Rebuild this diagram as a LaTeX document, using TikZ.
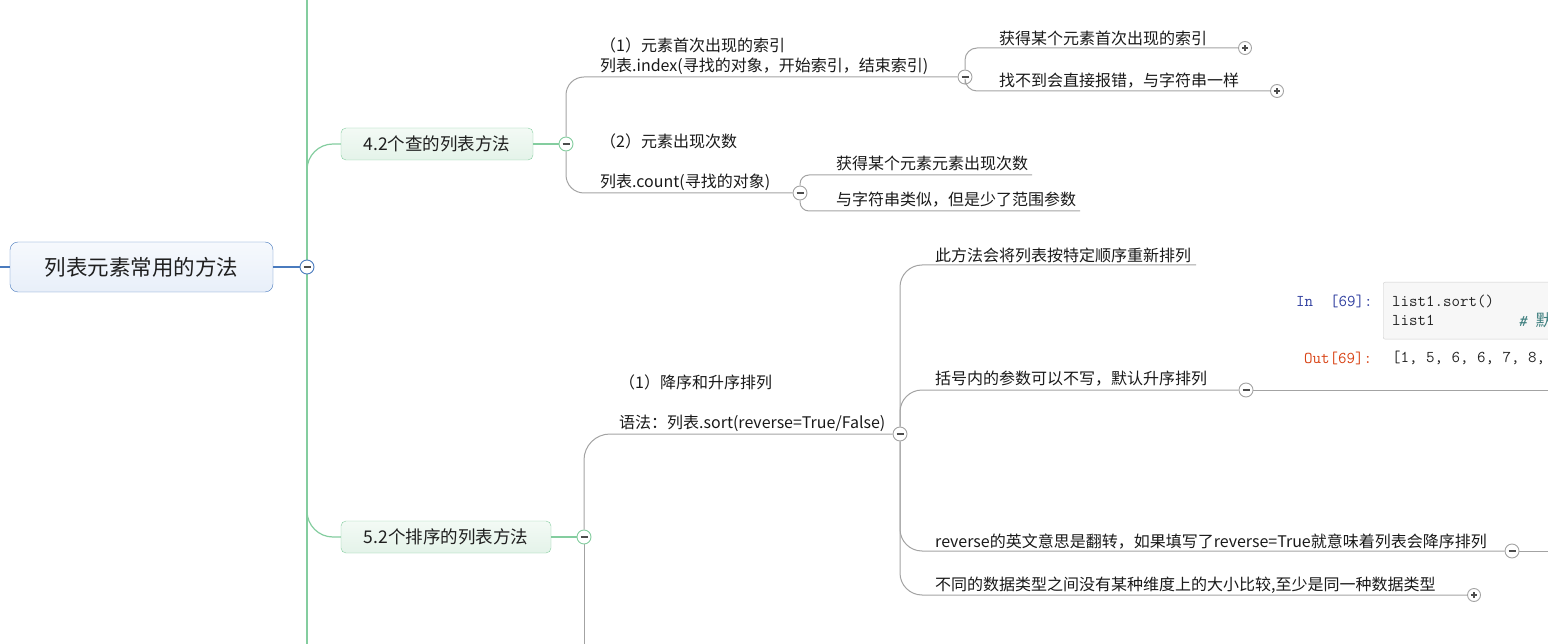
\documentclass[tikz,border=0pt]{standalone}
\usepackage{fontspec}
\setmainfont{Noto Sans CJK SC}
\newfontfamily\cjk{Noto Sans CJK SC}
\usepackage{tikz}
\usetikzlibrary{positioning}

\definecolor{rootline}{HTML}{4A7BBE}
\definecolor{rootfilla}{HTML}{F6F9FD}
\definecolor{rootfillb}{HTML}{E8EFF9}
\definecolor{grnline}{HTML}{84CD9F}
\definecolor{grnfilla}{HTML}{F3FAF5}
\definecolor{grnfillb}{HTML}{E4F3E9}
\definecolor{gryline}{HTML}{A3A3A3}
\definecolor{cellfill}{HTML}{F7F7F7}
\definecolor{cellline}{HTML}{CFCFCF}
\definecolor{inblue}{HTML}{303F9F}
\definecolor{outred}{HTML}{D84315}
\definecolor{cmtteal}{HTML}{408080}

\tikzset{
	rootbox/.style={draw=rootline, rounded corners=8pt, top color=rootfilla, bottom color=rootfillb, minimum width=263pt, minimum height=50pt, inner sep=0pt, text=black!88, font=\fontsize{21.5}{26}\selectfont},
	branch/.style={draw=grnline, rounded corners=5pt, top color=grnfilla, bottom color=grnfillb, minimum height=32pt, inner sep=0pt, text=black!88, font=\fontsize{17.5}{21}\selectfont},
	topic/.style={anchor=west, inner sep=0pt, align=left, text=black!90, font=\fontsize{16}{20}\selectfont},
	code/.style={anchor=west, inner sep=0pt, text=black!85, font=\ttfamily\fontsize{16.5}{20}\selectfont},
	tog/.style={circle, draw=#1, fill=white, minimum size=14pt, inner sep=0pt, line width=0.9pt},
	minus/.style={tog=#1, path picture={\draw[black!70, line width=1.3pt] ([xshift=-3.5pt]path picture bounding box.center) -- ([xshift=3.5pt]path picture bounding box.center);}},
	plus/.style={tog=#1, minimum size=13pt, path picture={\draw[black!70, line width=1.1pt] ([xshift=-3.2pt]path picture bounding box.center) -- ([xshift=3.2pt]path picture bounding box.center) ([yshift=-3.2pt]path picture bounding box.center) -- ([yshift=3.2pt]path picture bounding box.center);}},
	blueln/.style={draw=rootline, line width=1.2pt},
	grnln/.style={draw=grnline, line width=1.2pt},
	gryln/.style={draw=gryline, line width=1pt}
}

\begin{document}
\begin{tikzpicture}[x=1pt,y=-1pt]
	\useasboundingbox (0,0) rectangle (1548,644);
	\clip (0,0) rectangle (1548,644);

	\coordinate (ttop) at (307,0);
	\coordinate (tbot) at (307,644);
	\coordinate (lft) at (0,267);
	\draw [grnln] (ttop) -- (tbot);

	\node [rootbox] (root) at (141.5,267) {列表元素常用的方法};
	\draw [blueln] (lft) -- (root.west);
	\draw [blueln] (root.east) -- (307,267);
	\node [minus=rootline] (mroot) at (307,267) {};

	\node [branch, minimum width=192pt] (b42) at (437,144) {4.2个查的列表方法};
	\coordinate (j42) at (307,185);
	\draw [grnln, rounded corners=26pt] (j42) |- (b42.west);
	\draw [grnln] (b42.east) -- (566,144);
	\node [minus=grnline] (m42) at (566,144) {};

	\node [topic] (idx) at (600,56.5) {（1）元素首次出现的索引\\列表.index(寻找的对象，开始索引，结束索引)};
	\node [topic] (cnt) at (600,162) {（2）元素出现次数\\[20pt]列表.count(寻找的对象)};
	\node [minus=gryline] (midx) at (965,77) {};
	\node [minus=gryline] (mcnt) at (800,193) {};
	\draw [gryln, rounded corners=18pt] (m42) |- (midx);
	\draw [gryln, rounded corners=18pt] (m42) |- (mcnt);

	\node [topic] (idx1) at (999,38) {获得某个元素首次出现的索引};
	\node [topic] (idx2) at (999,81) {找不到会直接报错，与字符串一样};
	\node [plus=gryline] (pidx1) at (1245,48) {};
	\node [plus=gryline] (pidx2) at (1277,91) {};
	\draw [gryln, rounded corners=12pt] (midx) |- (pidx1);
	\draw [gryln, rounded corners=12pt] (midx) |- (pidx2);

	\node [topic] (cnt1) at (836,163) {获得某个元素元素出现次数};
	\node [topic] (cnt2) at (836,200) {与字符串类似，但是少了范围参数};
	\coordinate (ecnt1) at (1032,175);
	\coordinate (ecnt2) at (1080,211);
	\draw [gryln, rounded corners=9pt] (mcnt) |- (ecnt1);
	\draw [gryln, rounded corners=9pt] (mcnt) |- (ecnt2);

	\node [branch, minimum width=210pt] (b52) at (446,537) {5.2个排序的列表方法};
	\coordinate (j52) at (307,500);
	\draw [grnln, rounded corners=26pt] (j52) |- (b52.west);
	\draw [grnln] (b52.east) -- (584,537);
	\coordinate (d52) at (584,644);
	\draw [gryln] (584,537) -- (d52);
	\node [minus=grnline] (m52) at (584,537) {};

	\node [topic] (srt) at (619,403) {（1）降序和升序排列\\[20pt]语法：列表.sort(reverse=True/False)};
	\node [minus=gryline] (msrt) at (900,434) {};
	\draw [gryln, rounded corners=26pt] (m52) |- (msrt);

	\node [topic] (s1) at (935,255) {此方法会将列表按特定顺序重新排列};
	\node [topic] (s2) at (935,379) {括号内的参数可以不写，默认升序排列};
	\node [topic] (s3) at (935,542) {reverse的英文意思是翻转，如果填写了reverse=True就意味着列表会降序排列};
	\node [topic] (s4) at (935,585) {不同的数据类型之间没有某种维度上的大小比较,至少是同一种数据类型};
	\coordinate (es1) at (1196,265);
	\node [minus=gryline] (ms2) at (1246,390) {};
	\node [minus=gryline] (ms3) at (1512,551) {};
	\node [plus=gryline] (ps4) at (1474,595) {};
	\draw [gryln, rounded corners=22pt] (msrt) |- (es1);
	\draw [gryln, rounded corners=22pt] (msrt) |- (ms2);
	\draw [gryln, rounded corners=22pt] (msrt) |- (ms3);
	\draw [gryln, rounded corners=22pt] (msrt) |- (ps4);
	\coordinate (es2) at (1548,390);
	\coordinate (es3) at (1548,551);
	\draw [gryln] (ms2) -- (es2);
	\draw [gryln] (ms3) -- (es3);

	\node [draw=cellline, fill=cellfill, rounded corners=2pt, anchor=north west, minimum width=190pt, minimum height=57pt] (cell) at (1383,282) {};
	\node [code, text=inblue] (inlbl) at (1296,301) {In\ \ [69]:};
	\node [code] (c1) at (1392,301) {list1.sort()};
	\node [code] (c2) at (1392,320) {list1};
	\node [code, text=cmtteal] (c3) at (1518,320) {\itshape\#\ {\cjk 默}};
	\node [code, text=outred] (outlbl) at (1304,358) {Out[69]:};
	\node [code] (out) at (1392,358) {[1,\ 5,\ 6,\ 6,\ 7,\ 8,};
\end{tikzpicture}
\end{document}
